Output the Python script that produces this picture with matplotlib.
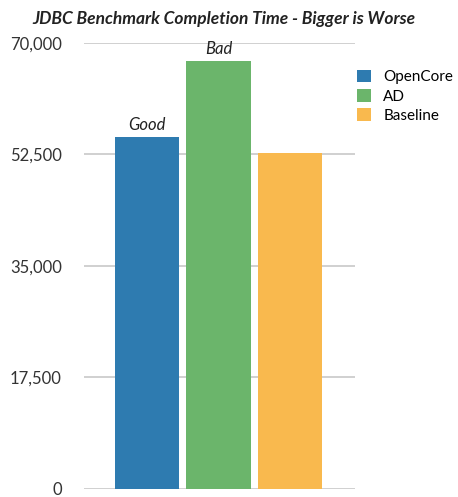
import matplotlib.pyplot as plt

plt.rcParams['font.family'] = ['Lato', 'DejaVu Sans']

# Completion times
series = ['OpenCore', 'AD', 'Baseline']
times = [55250, 67200, 52800]
colors = ['#2e7bb0', '#6bb56b', '#f9b94e']
notes = ['Good', 'Bad', '']
yticks = [0, 17500, 35000, 52500, 70000]

fig = plt.figure(figsize=(4.58, 4.97), dpi=100)
ax = fig.add_axes([0.1834, 0.0161, 0.5917, 0.8974])

xpos = range(len(series))
bars = ax.bar(xpos, times, width=0.9, color=colors, label=series, zorder=2)

for b, note in zip(bars, notes):
    if note:
        ax.text(b.get_x() + b.get_width() / 2, b.get_height() + 600, note,
                ha='center', va='bottom', style='italic', fontsize=12, color='#222222')

ax.set_xlim(-0.88, 2.91)
ax.set_ylim(0, 70000)
ax.set_yticks(yticks)
ax.set_yticklabels([f'{v:,}' for v in yticks], fontsize=12, color='#333333')
ax.set_xticks([])
ax.grid(axis='y', color='#c8c8c8', linewidth=1.2, zorder=0)
ax.tick_params(axis='y', length=0, pad=16)
for s in ax.spines.values():
    s.set_visible(False)

fig.text(0.07, 0.962, 'JDBC Benchmark Completion Time - Bigger is Worse',
         fontsize=12.5, fontweight='bold', style='italic', color='#222222', va='center')

ax.legend(handles=list(bars), labels=series, loc='upper left',
          bbox_to_anchor=(0.7795, 0.86), bbox_transform=fig.transFigure,
          frameon=False, fontsize=11, handlelength=0.92, handleheight=0.92,
          handletextpad=0.8, labelspacing=0.3, borderpad=0, borderaxespad=0)

fig.savefig('out.png', dpi=100)
